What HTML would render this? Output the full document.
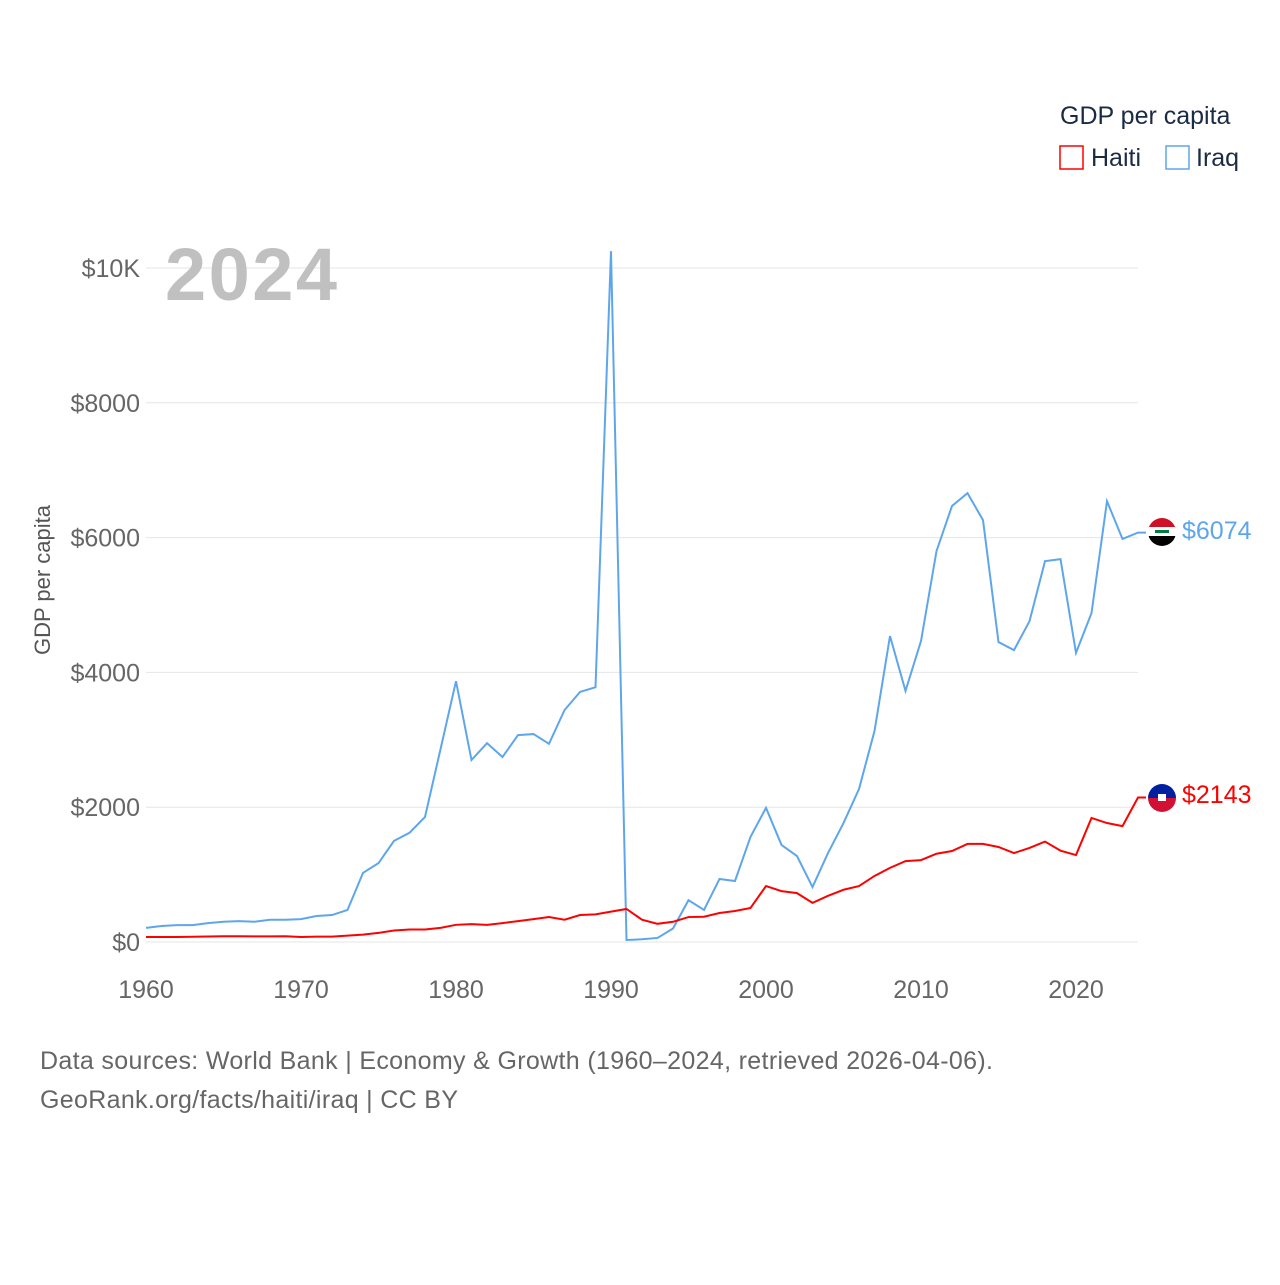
<!DOCTYPE html>
<html><head><meta charset="utf-8"><style>
body{margin:0;background:#fff;font-family:"Liberation Sans",sans-serif}
svg text{font-family:"Liberation Sans",sans-serif}
</style></head><body>
<svg id="chart" width="1280" height="1280" viewBox="0 0 1280 1280">
<text x="1060" y="124" font-size="25" fill="#1b2a45">GDP per capita</text>
<g><rect x="1060" y="146" width="23" height="23" fill="none" stroke="#ff0000" stroke-width="1.5"/><text x="1091" y="166" font-size="25" fill="#1b2a45">Haiti</text></g>
<g><rect x="1166" y="146" width="23" height="23" fill="none" stroke="#5ea6ec" stroke-width="1.5"/><text x="1196" y="166" font-size="25" fill="#1b2a45">Iraq</text></g>
<g id="grid"></g>
<text x="165" y="300" font-size="74" font-weight="bold" fill="#c0c0c0" textLength="172">2024</text>
<text transform="translate(50,580) rotate(-90)" text-anchor="middle" font-size="22" fill="#555">GDP per capita</text>
<g id="xt"></g>
<g id="lines"></g>
<g><clipPath id="c1"><circle cx="1162" cy="532" r="14"/></clipPath><g clip-path="url(#c1)"><rect x="1148" y="518" width="28" height="10" fill="#ce1126"/><rect x="1148" y="527" width="28" height="10" fill="#fff"/><rect x="1148" y="536" width="28" height="10" fill="#000"/><rect x="1155" y="530" width="14" height="3" fill="#007a3d"/></g></g>
<g><clipPath id="c2"><circle cx="1162" cy="798" r="14"/></clipPath><g clip-path="url(#c2)"><rect x="1148" y="784" width="28" height="14" fill="#00209f"/><rect x="1148" y="798" width="28" height="14" fill="#d21034"/><rect x="1158" y="794" width="8" height="7" fill="#fff"/></g></g>
<text x="1182" y="539" font-size="25" fill="#5ea6ec">$6074</text>
<text x="1182" y="803" font-size="25" fill="#ff0000">$2143</text>
<text x="40" y="1069" font-size="25" fill="#666" textLength="953">Data sources: World Bank | Economy &amp; Growth (1960–2024, retrieved 2026-04-06).</text>
<text x="40" y="1108" font-size="25" fill="#666" textLength="418">GeoRank.org/facts/haiti/iraq | CC BY</text>
</svg>
<script>
const years=[];for(let y=1960;y<=2024;y++)years.push(y);
const iraq=[210,237,250,250,280,300,310,300,330,330,340,385,400,475,1025,1170,1500,1620,1855,2860,3870,2700,2950,2745,3070,3085,2940,3440,3710,3780,10250,30,40,60,200,620,475,935,905,1560,1990,1440,1275,815,1320,1765,2270,3130,4540,3725,4465,5800,6470,6660,6260,4450,4330,4760,5650,5680,4290,4880,6540,5980,6074];
const haiti=[75,75,75,78,82,85,85,84,83,85,75,80,80,95,110,135,170,185,185,210,255,265,255,280,310,340,370,330,400,410,450,490,330,270,300,370,375,430,460,505,830,755,725,580,685,775,830,980,1100,1200,1215,1310,1350,1455,1455,1410,1320,1395,1490,1355,1290,1840,1765,1720,2143];
const yTicks=[0,2000,4000,6000,8000,10000];
const yTickLabels=["$0","$2000","$4000","$6000","$8000","$10K"];
const xTicks=[1960,1970,1980,1990,2000,2010,2020];
const X=y=>146+(y-1960)*15.5;
const Y=v=>942-v*0.0674;
const NS="http://www.w3.org/2000/svg";
const grid=document.getElementById('grid');
yTicks.forEach((t,i)=>{
 const l=document.createElementNS(NS,'line');
 l.setAttribute('x1',146);l.setAttribute('x2',1138);l.setAttribute('y1',Y(t));l.setAttribute('y2',Y(t));
 l.setAttribute('stroke','#e6e6e6');
 
 
 grid.appendChild(l);
 const tx=document.createElementNS(NS,'text');
 tx.setAttribute('x',140);tx.setAttribute('y',Y(t)+9);tx.setAttribute('text-anchor','end');
 tx.setAttribute('font-size','25');tx.setAttribute('fill','#666');tx.textContent=yTickLabels[i];
 
 
 grid.appendChild(tx);
});
const xt=document.getElementById('xt');
xTicks.forEach(t=>{
 const tx=document.createElementNS(NS,'text');
 tx.setAttribute('x',X(t));tx.setAttribute('y',998);tx.setAttribute('text-anchor','middle');
 tx.setAttribute('font-size','25');tx.setAttribute('fill','#666');tx.textContent=t;
 
 
 xt.appendChild(tx);
});
const lines=document.getElementById('lines');
[[iraq,'#5ea6ec','iraq-line'],[haiti,'#ff0000','haiti-line']].forEach(([d,c,n])=>{
 const p=document.createElementNS(NS,'polyline');
 const pts=d.map((v,i)=>X(years[i])+','+Y(v));
 pts.push((X(years[years.length-1])+8)+','+Y(d[d.length-1]));
 p.setAttribute('points',pts.join(' '));
 p.setAttribute('fill','none');p.setAttribute('stroke',c);p.setAttribute('stroke-width','2');
 
 
 lines.appendChild(p);
});
</script>
</body></html>
